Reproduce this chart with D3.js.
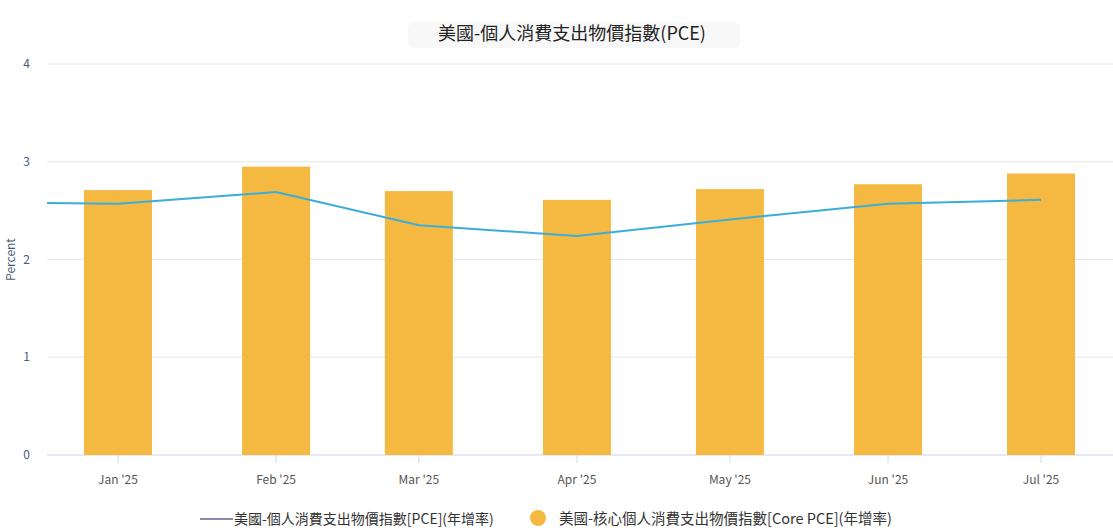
<!DOCTYPE html>
<html><head><meta charset="utf-8">
<script src="https://cdn.jsdelivr.net/npm/d3@7"></script>
<style>body{margin:0;background:#fff;font-family:"Noto Sans CJK TC","Noto Sans",sans-serif}</style>
</head><body><svg id="c" width="1113" height="530"></svg>
<script>
const months = ["2025-01-01","2025-02-01","2025-03-01","2025-04-01","2025-05-01","2025-06-01","2025-07-01"];
const coreValues = [2.71,2.95,2.70,2.61,2.72,2.77,2.88];
const lineMonths = ["2024-12-01","2025-01-01","2025-02-01","2025-03-01","2025-04-01","2025-05-01","2025-06-01","2025-07-01"];
const pceValues = [2.59,2.57,2.69,2.35,2.24,2.41,2.57,2.61];
const yTicks = [0,1,2,3,4];
const tickLabels = ["Jan '25","Feb '25","Mar '25","Apr '25","May '25","Jun '25","Jul '25"];
const title = "美國-個人消費支出物價指數(PCE)";
const legendNames = ["美國-個人消費支出物價指數[PCE](年增率)","美國-核心個人消費支出物價指數[Core PCE](年增率)"];

const svg = d3.select("#c");
const L=47,R=1113,T=64,B=455;
const p = d3.timeParse("%Y-%m-%d");
const x = d3.scaleTime().domain([p("2025-01-01"),p("2025-07-01")]).range([118,1041]);
const y = d3.scaleLinear().domain([0,4]).range([B,T]);

svg.append("g").selectAll("line").data(yTicks).join("line")
 .attr("x1",L).attr("x2",R).attr("y1",d=>y(d)).attr("y2",d=>y(d))
 .attr("stroke",d=>d===0?"#ccd6eb":"#e6e6e6");
svg.append("g").selectAll("text").data(yTicks).join("text")
 .attr("x",30).attr("y",d=>y(d)+4).attr("text-anchor","end")
 .attr("font-size",12).attr("fill","#4a5a7a").text(d=>d);
svg.append("text").attr("transform",`translate(12,${(T+B)/2}) rotate(-90)`)
 .attr("text-anchor","middle").attr("dominant-baseline","middle").attr("font-size",12).attr("fill","#4a5a7a").text("Percent");

svg.append("g").selectAll("rect").data(months).join("rect")
 .attr("x",(d)=>x(p(d))-34).attr("width",68)
 .attr("y",(d,i)=>y(coreValues[i])).attr("height",(d,i)=>B-y(coreValues[i]))
 .attr("fill","#f5b942");

svg.append("clipPath").attr("id","cl").append("rect").attr("x",L).attr("y",0).attr("width",R-L).attr("height",530);
svg.append("path").attr("clip-path","url(#cl)")
 .datum(lineMonths.map((d,i)=>[x(p(d)),y(pceValues[i])]))
 .attr("d",d3.line()).attr("fill","none").attr("stroke","#3aaed8").attr("stroke-width",2);

svg.append("g").selectAll("line").data(months).join("line")
 .attr("x1",d=>x(p(d))).attr("x2",d=>x(p(d))).attr("y1",B).attr("y2",B+8).attr("stroke","#ccd6eb");
svg.append("g").selectAll("text").data(months).join("text")
 .attr("x",d=>x(p(d))).attr("y",484).attr("text-anchor","middle")
 .attr("font-size",12).attr("fill","#555").text((d,i)=>tickLabels[i]);

svg.append("rect").attr("x",408).attr("y",22).attr("width",332).attr("height",26).attr("fill","#f8f8f8").attr("rx",6);
svg.append("text").attr("x",572).attr("y",40).attr("text-anchor","middle")
 .attr("font-size",18).attr("fill","#222").text(title);

svg.append("line").attr("x1",200).attr("x2",233).attr("y1",519).attr("y2",519).attr("stroke","#8f88b0").attr("stroke-width",2);
svg.append("text").attr("x",234).attr("y",524).attr("font-size",14).attr("fill","#333").text(legendNames[0]);
svg.append("circle").attr("cx",538).attr("cy",518).attr("r",8).attr("fill","#f5b942");
svg.append("text").attr("x",559).attr("y",524).attr("font-size",14.5).attr("fill","#333").text(legendNames[1]);
</script></body></html>
